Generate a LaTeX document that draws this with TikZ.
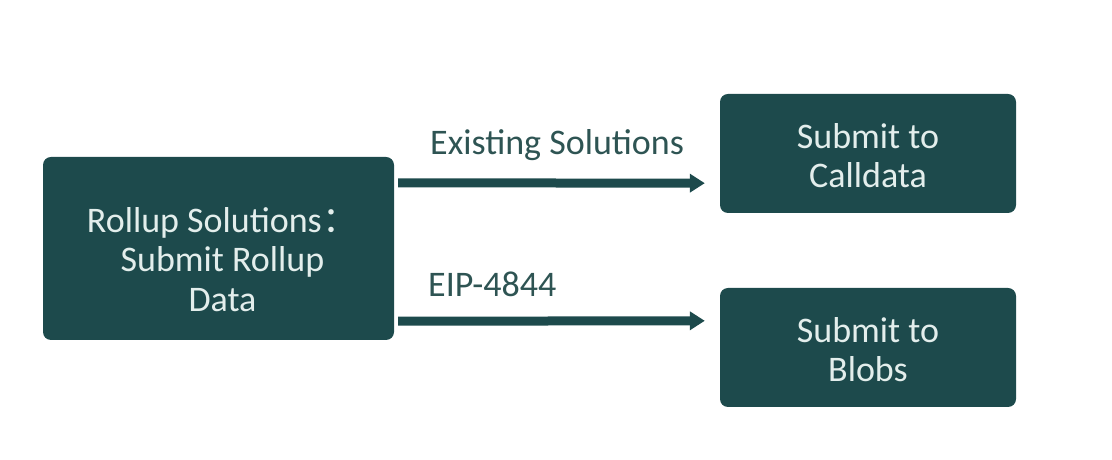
\documentclass[tikz,border=0pt]{standalone}
\usepackage{fontspec}
\setmainfont{Carlito}
\newfontfamily\cjk{Noto Sans CJK SC}
\usetikzlibrary{arrows.meta}
\definecolor{boxteal}{HTML}{1D4A4C}
\definecolor{boxtext}{HTML}{E3EEEC}
\definecolor{labtext}{HTML}{2E5453}
\tikzset{
  box/.style={draw=none, fill=boxteal, rounded corners=8pt, inner sep=0pt},
  boxlabel/.style={text=boxtext, align=center, inner sep=0pt,
    font=\fontsize{36}{39.5}\selectfont},
  lab/.style={text=labtext, anchor=base west, inner sep=0pt, font=\fontsize{36}{40}\selectfont},
  arr/.style={draw=boxteal, line width=9pt, -{Triangle[length=15pt,width=18pt]}}
}
\begin{document}
\begin{tikzpicture}[x=1pt,y=1pt]
\useasboundingbox (0,0) rectangle (1112,460);
\node[box, minimum width=351pt, minimum height=183pt] (L) at (218.5,211.5) {};
\node[boxlabel] (Lt) at ([xshift=4pt,yshift=-11pt]L.center)
  {Rollup Solutions{\cjk ：}\\Submit Rollup\\Data};
\node[box, minimum width=296pt, minimum height=119pt] (C) at (868,306.5) {};
\node[boxlabel] (Ct) at ([yshift=-2pt]C.center) {Submit to\\Calldata};
\node[box, minimum width=296pt, minimum height=119pt] (B) at (868,112.5) {};
\node[boxlabel] (Bt) at ([yshift=-2pt]B.center) {Submit to\\Blobs};
\node[lab] (l1) at (430,305) {Existing Solutions};
\node[lab] (l2) at (428,163) {EIP-4844};
\draw[arr] ([xshift=4pt,yshift=-26pt]L.north east) -- ([xshift=-15pt,yshift=30pt]C.south west);
\draw[arr] ([xshift=4pt,yshift=19pt]L.south east) -- ([xshift=-15pt,yshift=-33pt]B.north west);
\end{tikzpicture}
\end{document}
